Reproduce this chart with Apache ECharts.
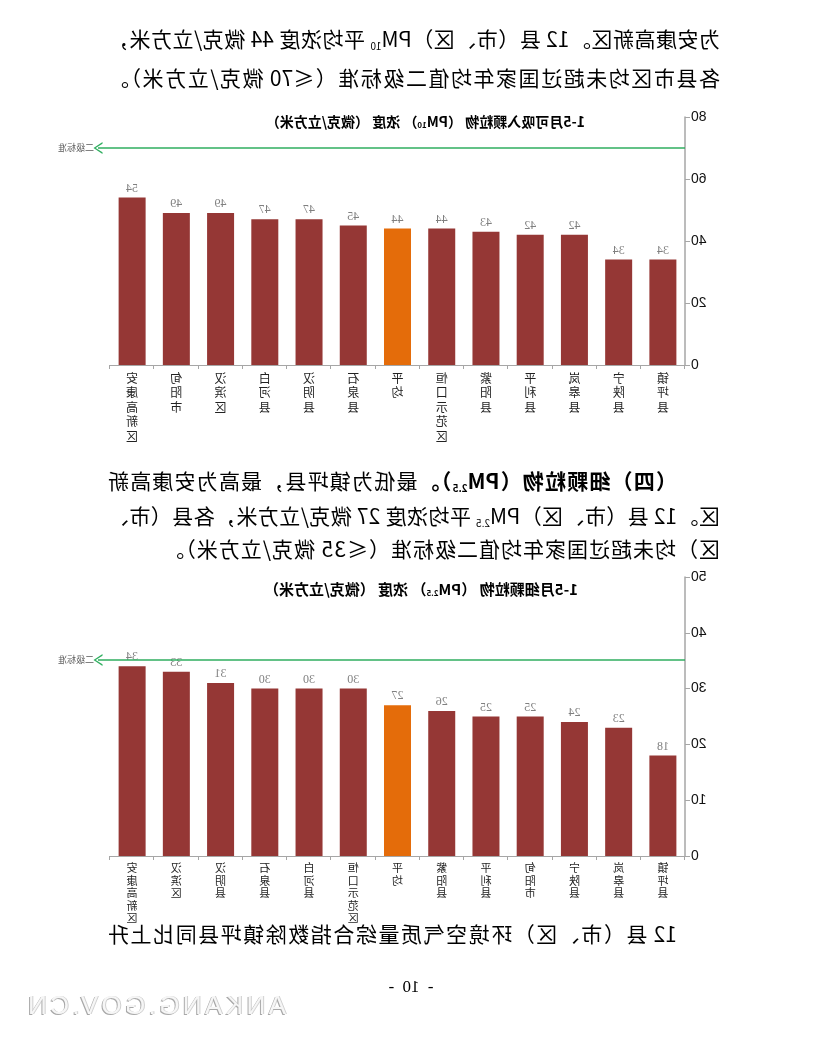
<!DOCTYPE html>
<html>
<head>
<meta charset="utf-8">
<script src="https://cdn.jsdelivr.net/npm/echarts@6.0.0/dist/echarts.min.js"></script>
<style>
	html, body { margin: 0; padding: 0; background: #fff; overflow: hidden; }
	#page {
		position: relative; width: 827px; height: 1037px; background: #fff;
		transform: scaleX(-1); transform-origin: 50% 50%;
		font-family: "Noto Sans CJK SC", sans-serif; color: #000;
	}
	.ln {
		position: absolute; left: 107px; width: 612px; font-size: 21px; line-height: 22px;
		white-space: nowrap; text-align: justify; text-align-last: justify;
	}
	.ln.last { text-align: left; text-align-last: left; letter-spacing: 1px; }
	.ln sub { font-size: 10px; vertical-align: -3px; line-height: 0; }
	.ln b { font-weight: bold; }
	.chart { position: absolute; left: 0; width: 827px; }
	#pageno { position: absolute; left: 366px; width: 100px; top: 977px; text-align: center;
		font-family: "Liberation Serif", serif; font-size: 17px; word-spacing: 4px; }
	#mark { position: absolute; left: 541px; top: 990px; font-family: "Liberation Sans", sans-serif;
		font-size: 26px; letter-spacing: 3.4px; color: #f6f6f6;
		text-shadow: 1px 1px 0 #a8a8a8, -1px 0 0 #d0d0d0; }
</style>
</head>
<body>
<div id="page">
	<div class="ln" style="top:27px">为安康高新区。12 县（市、区）PM<sub>10</sub> 平均浓度 44 微克/立方米，</div>
	<div class="ln" style="top:66px">各县市区均未超过国家年均值二级标准（≤70 微克/立方米）。</div>

	<div class="chart" id="pm10chart" style="top:100px;height:360px"></div>

	<div class="ln" style="top:469px;left:150px;width:569px"><b>（四）细颗粒物（PM<sub>2.5</sub>）。</b>最低为镇坪县，最高为安康高新</div>
	<div class="ln" style="top:504px">区。12 县（市、区）PM<sub>2.5</sub> 平均浓度 27 微克/立方米，各县（市、</div>
	<div class="ln last" style="top:537px">区）均未超过国家年均值二级标准（≤35 微克/立方米）。</div>

	<div class="chart" id="pm25chart" style="top:570px;height:370px"></div>

	<div class="ln" style="top:922px;left:150px;width:569px">12 县（市、区）环境空气质量综合指数除镇坪县同比上升</div>

	<div id="pageno">- 10 -</div>
	<div id="mark">ANKANG.GOV.CN</div>
</div>

<script>
// 1-5月 PM10 浓度（微克/立方米）
var pm10Names = ['镇坪县', '宁陕县', '岚皋县', '平利县', '紫阳县', '恒口示范区', '平均', '石泉县', '汉阴县', '白河县', '汉滨区', '旬阳市', '安康高新区'];
var pm10Values = [34, 34, 42, 42, 43, 44, 44, 45, 47, 47, 49, 49, 54];
var pm10Limit = 70;
var pm10Axis = { max: 80, interval: 20 };

// 1-5月 PM2.5 浓度（微克/立方米）
var pm25Names = ['镇坪县', '岚皋县', '宁陕县', '旬阳市', '平利县', '紫阳县', '平均', '恒口示范区', '白河县', '石泉县', '汉阴县', '汉滨区', '安康高新区'];
var pm25Values = [18, 23, 24, 25, 25, 26, 27, 30, 30, 30, 31, 33, 34];
var pm25Limit = 35;
var pm25Axis = { max: 50, interval: 10 };

var barRed = '#953735';
var barOrange = '#e46c0a';
var limitGreen = '#2fae5f';
var chevron = 'path://M5,0 L10,10 L8.6,10 L5,2.4 L1.4,10 L0,10 Z';

function buildOption(cfg) {
	return {
		animation: false,
		title: {
			text: cfg.title,
			left: cfg.titleLeft,
			top: cfg.titleTop,
			padding: 0,
			textStyle: {
				fontFamily: 'Noto Sans CJK SC',
				fontSize: cfg.titleSize,
				fontWeight: 'bold',
				color: '#000',
				rich: {
					sub: { fontFamily: 'Noto Sans CJK SC', fontSize: 8, fontWeight: 'bold', color: '#000', verticalAlign: 'bottom', padding: [5, 0, 0, 0] }
				}
			}
		},
		grid: [
			{ left: 142, width: 575, top: cfg.top, height: cfg.height },
			// a little wider, only for the standard line
			{ left: 142, width: 587, top: cfg.top, height: cfg.height }
		],
		xAxis: [{
			type: 'category',
			gridIndex: 0,
			data: cfg.names,
			axisLine: { lineStyle: { color: '#a6a6a6', width: 1.2 } },
			axisTick: { show: true, length: 4, lineStyle: { color: '#a6a6a6' } },
			axisLabel: {
				interval: 0,
				margin: 6,
				color: '#222',
				fontFamily: 'Noto Sans CJK SC',
				fontSize: cfg.catSize,
				lineHeight: cfg.catLine,
				verticalAlign: 'top',
				formatter: function(v) { return v.split('').join('\n'); }
			}
		}, {
			type: 'value', gridIndex: 1, min: 0, max: 1, show: false
		}],
		yAxis: [{
			type: 'value',
			gridIndex: 0,
			min: 0,
			max: cfg.axis.max,
			interval: cfg.axis.interval,
			axisLine: { show: true, lineStyle: { color: '#a6a6a6', width: 1.5 } },
			axisTick: { show: true, length: 5, lineStyle: { color: '#a6a6a6' } },
			splitLine: { show: false },
			axisLabel: { margin: 6, color: '#111', fontFamily: 'Liberation Sans', fontSize: 14 }
		}, {
			type: 'value', gridIndex: 1, min: 0, max: cfg.axis.max, show: false
		}],
		series: [{
			type: 'bar',
			xAxisIndex: 0,
			yAxisIndex: 0,
			data: cfg.values,
			barWidth: 27,
			itemStyle: {
				color: function(p) { return p.name === '平均' ? barOrange : barRed; }
			},
			label: {
				show: true,
				position: 'top',
				distance: 3,
				color: '#808080',
				fontFamily: 'Liberation Serif',
				fontSize: 12
			}
		}, {
			type: 'line',
			xAxisIndex: 1,
			yAxisIndex: 1,
			data: [],
			markLine: {
				silent: true,
				symbol: ['none', chevron],
				symbolSize: [12, 9],
				lineStyle: { color: limitGreen, width: 1.5, type: 'solid' },
				label: {
					position: 'end',
					distance: 4,
					formatter: '二级标准',
					color: '#595959',
					fontFamily: 'Noto Sans CJK SC',
					fontSize: 9
				},
				data: [{ yAxis: cfg.limit }]
			}
		}]
	};
}

var chart1 = echarts.init(document.getElementById('pm10chart'));
chart1.setOption(buildOption({
	title: '1-5月可吸入颗粒物 （PM{sub|10}） 浓度 （微克/立方米）',
	titleLeft: 242, titleTop: 15, titleSize: 14,
	top: 17, height: 248,
	names: pm10Names, values: pm10Values, limit: pm10Limit, axis: pm10Axis,
	catSize: 12, catLine: 14.5
}));

var chart2 = echarts.init(document.getElementById('pm25chart'));
chart2.setOption(buildOption({
	title: '1-5月细颗粒物 （PM{sub|2.5}） 浓度 （微克/立方米）',
	titleLeft: 249, titleTop: 12, titleSize: 15,
	top: 6, height: 280,
	names: pm25Names, values: pm25Values, limit: pm25Limit, axis: pm25Axis,
	catSize: 11, catLine: 12.5
}));
</script>
</body>
</html>
